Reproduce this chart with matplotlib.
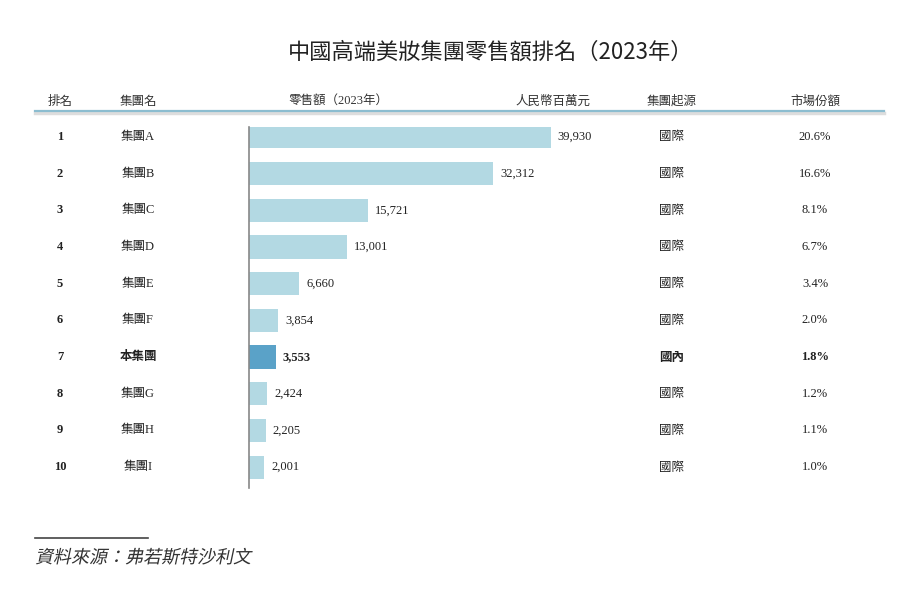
import matplotlib.pyplot as plt
import matplotlib.transforms as mtransforms
from matplotlib.textpath import TextPath
from matplotlib.patches import PathPatch
from matplotlib.font_manager import FontProperties

# 数据
ranks = ['1', '2', '3', '4', '5', '6', '7', '8', '9', '10']
groups = ['集團A', '集團B', '集團C', '集團D', '集團E', '集團F', '本集團', '集團G', '集團H', '集團I']
sales = [39930, 32312, 15721, 13001, 6660, 3854, 3553, 2424, 2205, 2001]
origins = ['國際', '國際', '國際', '國際', '國際', '國際', '國內', '國際', '國際', '國際']
shares = ['20.6%', '16.6%', '8.1%', '6.7%', '3.4%', '2.0%', '1.8%', '1.2%', '1.1%', '1.0%']
highlight = 6

SERIF = ['Liberation Serif', 'Noto Sans CJK TC']
SANS = ['Noto Sans CJK TC', 'Liberation Serif']
W, H = 923, 594

fig = plt.figure(figsize=(W / 100, H / 100), dpi=100)

# 条形图坐标轴（像素位置换算成比例）
x0, x1 = 249, 700
y0, y1 = 127, 488
ax = fig.add_axes([x0 / W, 1 - y1 / H, (x1 - x0) / W, (y1 - y0) / H])
ax.set_xlim(0, 39930 * (x1 - x0) / 302)
ax.set_ylim(9.57, -0.27)

colors = ['#5aa2c8' if i == highlight else '#b3d9e3' for i in range(len(sales))]
ax.barh(range(len(sales)), sales, height=0.63, color=colors)

for s in ['top', 'right', 'bottom']:
    ax.spines[s].set_visible(False)
ax.spines['left'].set_color('#888888')
ax.spines['left'].set_linewidth(1.2)
ax.set_xticks([])
ax.set_yticks([])

# 数值标签
for i, v in enumerate(sales):
    ax.text(v + 900, i, f'{v:,}', va='center', ha='left', fontsize=9,
            family=SERIF, fontweight='bold' if i == highlight else 'normal', color='#222222')

# 其他列：x 用图像比例，y 用数据坐标
trans = mtransforms.blended_transform_factory(fig.transFigure, ax.transData)
for i in range(len(sales)):
    bold = 'bold' if i == highlight else 'normal'
    ax.text(60 / W, i, ranks[i], transform=trans, ha='center', va='center',
            fontsize=9, family=SERIF, fontweight='bold', color='#222222')
    ax.text(138 / W, i, groups[i], transform=trans, ha='center', va='center',
            fontsize=9, family=SERIF, fontweight=bold, color='#222222')
    ax.text(672 / W, i, origins[i], transform=trans, ha='center', va='center',
            fontsize=9, family=SANS, fontweight=bold, color='#222222')
    ax.text(815 / W, i, shares[i], transform=trans, ha='center', va='center',
            fontsize=9, family=SERIF, fontweight=bold, color='#222222')

# 表头
hy = 1 - 101 / H
fig.text(60 / W, hy, '排名', ha='center', va='center', fontsize=9, family=SANS, color='#333333')
fig.text(138 / W, hy, '集團名', ha='center', va='center', fontsize=9, family=SANS, color='#333333')
fig.text(338 / W, hy, '零售額（2023年）', ha='center', va='center', fontsize=9, family=SERIF, color='#333333')
fig.text(590 / W, hy, '人民幣百萬元', ha='right', va='center', fontsize=9, family=SANS, color='#333333')
fig.text(672 / W, hy, '集團起源', ha='center', va='center', fontsize=9, family=SANS, color='#333333')
fig.text(815 / W, hy, '市場份額', ha='center', va='center', fontsize=9, family=SANS, color='#333333')

# 表头下方的线
fig.add_artist(plt.Line2D([35 / W, 884 / W], [1 - 113 / H] * 2, color='#dddddd', lw=2.5))
fig.add_artist(plt.Line2D([35 / W, 884 / W], [1 - 111 / H] * 2, color='#8cbdd0', lw=1.6))

# 标题
fig.text(491 / W, 1 - 52 / H, '中國高端美妝集團零售額排名（2023年）', ha='center', va='center',
         fontsize=16, family=SANS, fontweight='medium', color='#222222')

# 资料来源（CJK 字体没有斜体，用路径做倾斜）
fig.add_artist(plt.Line2D([35 / W, 148 / W], [1 - 538 / H] * 2, color='#444444', lw=1.2))
src = TextPath((0, 0), '資料來源：弗若斯特沙利文', size=18,
               prop=FontProperties(family='Noto Sans CJK TC'))
skew = mtransforms.Affine2D().skew_deg(12, 0).translate(35, H - 563)
fig.add_artist(PathPatch(src, transform=skew, facecolor='#333333', edgecolor='none'))

fig.savefig('out.png', dpi=100)
